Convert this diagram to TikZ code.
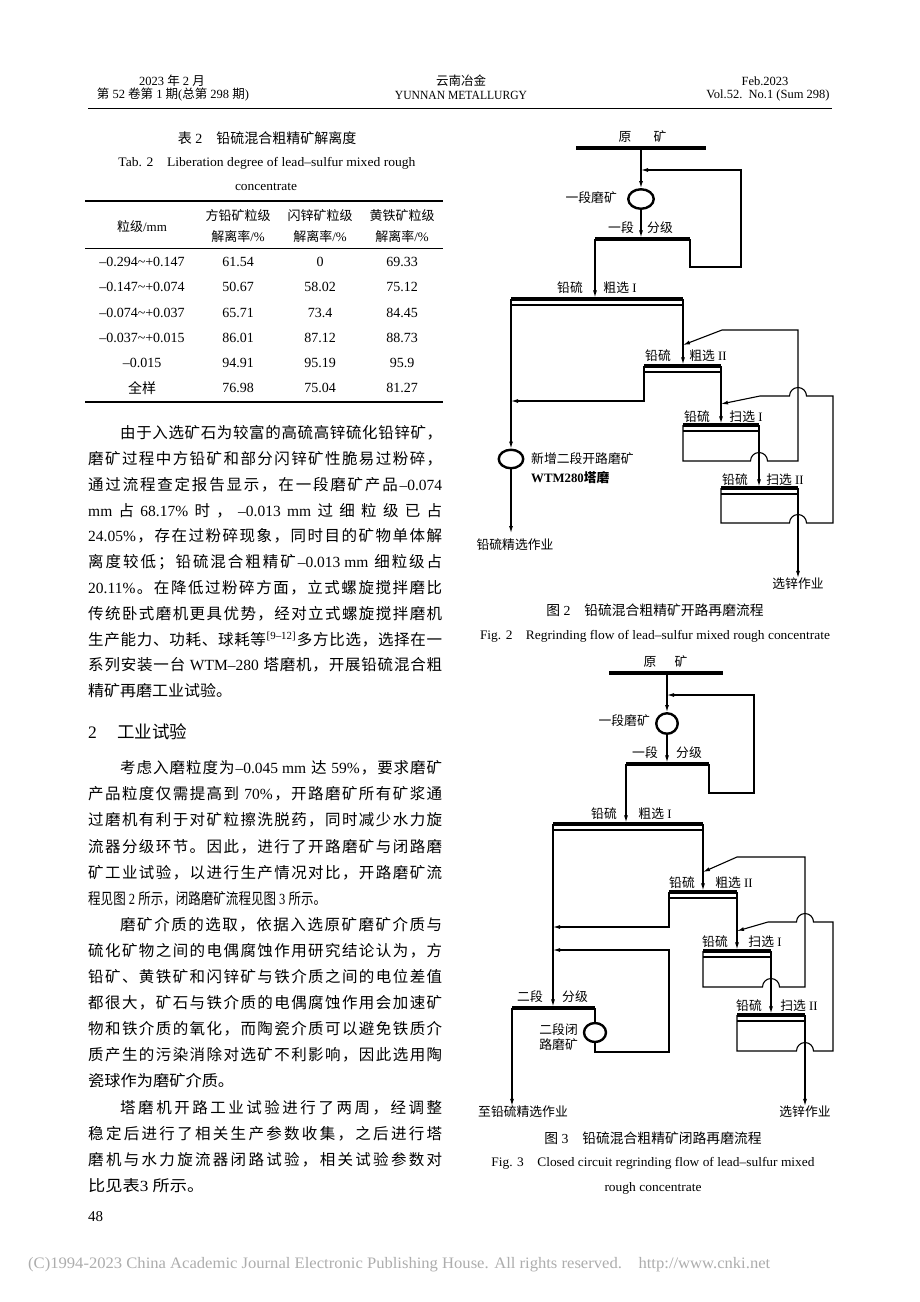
\documentclass[tikz,border=0pt]{standalone}
\usepackage{graphicx}
\usepackage{fontspec}
\setmainfont{Liberation Serif}
\newfontfamily\cjk{Noto Sans CJK SC}
\usetikzlibrary{arrows.meta,shapes.geometric}
\XeTeXinterchartokenstate=1
\newXeTeXintercharclass\CJKcls
\newcount\cjkc
\cjkc="3000 \loop\XeTeXcharclass\cjkc=\CJKcls \advance\cjkc by 1 \ifnum\cjkc<"3040 \repeat
\cjkc="4E00 \loop\XeTeXcharclass\cjkc=\CJKcls \advance\cjkc by 1 \ifnum\cjkc<"9FB0 \repeat
\cjkc="FF00 \loop\XeTeXcharclass\cjkc=\CJKcls \advance\cjkc by 1 \ifnum\cjkc<"FF60 \repeat
\XeTeXinterchartoks 0 \CJKcls = {\cjk}
\XeTeXinterchartoks 4095 \CJKcls = {\cjk}
\XeTeXinterchartoks \CJKcls 0 = {\rmfamily}
\XeTeXinterchartoks \CJKcls 4095 = {\rmfamily}
\makeatletter
\def\spreadglue{\hfil}
\def\spread#1{\sp@first#1\sp@END}
\def\sp@first#1{#1\sp@rest}
\def\sp@rest#1{\def\sp@tmp{#1}\ifx\sp@tmp\sp@stop\else\spreadglue#1\expandafter\sp@rest\fi}
\def\sp@stop{\sp@END}
\makeatother
\newcommand\jline[2]{\hbox to #1pt{\spread{#2}}}
\newcommand\fitw[2]{\resizebox{#1pt}{\height}{#2}}
\begin{document}
\begin{tikzpicture}[x=1pt,y=-1pt,
  every node/.style={inner sep=0pt},
  bl/.style={anchor=west,inner sep=0pt,font=\fontsize{15.5}{18}\selectfont,text height=13.5pt,text depth=2pt},
  hd/.style={font=\fontsize{12.5}{14}\selectfont},
  fl/.style={font=\fontsize{12.8}{14}\selectfont},
  capt/.style={font=\fontsize{13.8}{16}\selectfont},
  th/.style={font=\fontsize{13}{15}\selectfont},
  td/.style={font=\fontsize{14}{16}\selectfont},
  ln/.style={line width=1.1pt},
  arr/.style={line width=1.1pt,-{Latex[length=7pt,width=4pt]}},
  arrbar/.style={arr,shorten >=1.6pt},
  bar/.style={line width=3.3pt},
  mill/.style={ellipse,draw,line width=2.4pt,inner sep=0pt}]
\fill[white] (0,0) rectangle (920,1302);
\useasboundingbox (0,0) rectangle (920,1302);

% ---------- header ----------
\node[hd] (h1) at (172,81) {2023 年 2 月};
\node[hd] (h2) at (173,95) {第 52 卷第 1 期(总第 298 期)};
\node[hd] (h3) at (461,81) {云南冶金};
\node[hd] (h4) at (461,95) {\fitw{132}{YUNNAN METALLURGY}};
\node[hd] (h5) at (765,81) {Feb.2023};
\node[hd] (h6) at (768,95) {Vol.52.\ \ No.1 (Sum 298)};
\draw[line width=1.2pt] (88,108.5) -- (832,108.5);

% ---------- table ----------
\node[font=\fontsize{14}{16}\selectfont] (tt) at (267,138) {表 2　铅硫混合粗精矿解离度};
\node (te1) at (267,163) {\fitw{297}{\fontsize{13}{15}\selectfont Tab. 2\quad Liberation degree of lead–sulfur mixed rough}};
\node (te2) at (266,187) {\fitw{62}{\fontsize{13}{15}\selectfont concentrate}};
\draw[line width=1.4pt] (85,201) -- (443,201);
\node[th] (c1) at (142,227) {粒级/mm};
\node[th] (c2a) at (238,216) {方铅矿粒级};
\node[th] (c2b) at (238,237) {解离率/\%};
\node[th] (c3a) at (320,216) {闪锌矿粒级};
\node[th] (c3b) at (320,237) {解离率/\%};
\node[th] (c4a) at (402,216) {黄铁矿粒级};
\node[th] (c4b) at (402,237) {解离率/\%};
\draw[line width=0.9pt] (85,248) -- (443,248);
\node[td] (r1a) at (142,262) {–0.294\textasciitilde+0.147};
\node[td] (r1b) at (238,262) {61.54};
\node[td] (r1c) at (320,262) {0};
\node[td] (r1d) at (402,262) {69.33};
\node[td] (r2a) at (142,287) {–0.147\textasciitilde+0.074};
\node[td] (r2b) at (238,287) {50.67};
\node[td] (r2c) at (320,287) {58.02};
\node[td] (r2d) at (402,287) {75.12};
\node[td] (r3a) at (142,313) {–0.074\textasciitilde+0.037};
\node[td] (r3b) at (238,313) {65.71};
\node[td] (r3c) at (320,313) {73.4};
\node[td] (r3d) at (402,313) {84.45};
\node[td] (r4a) at (142,338) {–0.037\textasciitilde+0.015};
\node[td] (r4b) at (238,338) {86.01};
\node[td] (r4c) at (320,338) {87.12};
\node[td] (r4d) at (402,338) {88.73};
\node[td] (r5a) at (142,363) {–0.015};
\node[td] (r5b) at (238,363) {94.91};
\node[td] (r5c) at (320,363) {95.19};
\node[td] (r5d) at (402,363) {95.9};
\node[td] (r6a) at (142,388) {全样};
\node[td] (r6b) at (238,388) {76.98};
\node[td] (r6c) at (320,388) {75.04};
\node[td] (r6d) at (402,388) {81.27};
\draw[line width=1.4pt] (85,402) -- (443,402);

% ---------- body text ----------
\node[bl] (p1a) at (120,433) {\jline{322}{由于入选矿石为较富的高硫高锌硫化铅锌矿，}};
\node[bl] (p1b) at (88,458.8) {\jline{354}{磨矿过程中方铅矿和部分闪锌矿性脆易过粉碎，}};
\node[bl] (p1c) at (88,484.6) {\jline{354}{通过流程查定报告显示，在一段磨矿产品{–0.074}}};
\node[bl] (p1d) at (88,510.4) {\jline{354}{{mm}占{68.17\%}时，{–0.013}{mm}过细粒级已占}};
\node[bl] (p1e) at (88,536.2) {\jline{354}{{24.05\%}，存在过粉碎现象，同时目的矿物单体解}};
\node[bl] (p1f) at (88,562) {\jline{354}{离度较低；铅硫混合粗精矿{–0.013\ mm\ }细粒级占}};
\node[bl] (p1g) at (88,587.8) {\jline{354}{{20.11\%}。在降低过粉碎方面，立式螺旋搅拌磨比}};
\node[bl] (p1h) at (88,613.6) {\jline{354}{传统卧式磨机更具优势，经对立式螺旋搅拌磨机}};
\node[bl] (p1i) at (88,639.4) {\jline{354}{生产能力、功耗、球耗等{\textsuperscript{[9–12]}}多方比选，选择在一}};
\node[bl] (p1j) at (88,665.2) {\jline{354}{系列安装一台{\ WTM–280\ }塔磨机，开展铅硫混合粗}};
\node[bl] (p1k) at (88,691) {\fitw{144}{精矿再磨工业试验。}};

\node[bl,font=\fontsize{17.5}{20}\selectfont] (s2n) at (88,733) {2};
\node[bl,font=\fontsize{17.5}{20}\selectfont] (s2t) at (117,733) {工业试验};

\node[bl] (p2a) at (120,768) {\jline{322}{考虑入磨粒度为{–0.045\ mm\ }达{\ 59\%}，要求磨矿}};
\node[bl] (p2b) at (88,794.1) {\jline{354}{产品粒度仅需提高到{\ 70\%}，开路磨矿所有矿浆通}};
\node[bl] (p2c) at (88,820.2) {\jline{354}{过磨机有利于对矿粒擦洗脱药，同时减少水力旋}};
\node[bl] (p2d) at (88,846.3) {\jline{354}{流器分级环节。因此，进行了开路磨矿与闭路磨}};
\node[bl] (p2e) at (88,872.4) {\jline{354}{矿工业试验，以进行生产情况对比，开路磨矿流}};
\node[bl] (p2f) at (88,898.5) {\fitw{238}{程见图 2 所示，闭路磨矿流程见图 3 所示。}};
\node[bl] (p3a) at (120,924.6) {\jline{322}{磨矿介质的选取，依据入选原矿磨矿介质与}};
\node[bl] (p3b) at (88,950.7) {\jline{354}{硫化矿物之间的电偶腐蚀作用研究结论认为，方}};
\node[bl] (p3c) at (88,976.8) {\jline{354}{铅矿、黄铁矿和闪锌矿与铁介质之间的电位差值}};
\node[bl] (p3d) at (88,1002.9) {\jline{354}{都很大，矿石与铁介质的电偶腐蚀作用会加速矿}};
\node[bl] (p3e) at (88,1029) {\jline{354}{物和铁介质的氧化，而陶瓷介质可以避免铁质介}};
\node[bl] (p3f) at (88,1055.1) {\jline{354}{质产生的污染消除对选矿不利影响，因此选用陶}};
\node[bl] (p3g) at (88,1081.2) {\fitw{146}{瓷球作为磨矿介质。}};
\node[bl] (p4a) at (120,1107.3) {\jline{322}{塔磨机开路工业试验进行了两周，经调整}};
\node[bl] (p4b) at (88,1133.4) {\jline{354}{稳定后进行了相关生产参数收集，之后进行塔}};
\node[bl] (p4c) at (88,1159.5) {\jline{354}{磨机与水力旋流器闭路试验，相关试验参数对}};
\node[bl] (p4d) at (88,1185.6) {\fitw{116}{比见表3 所示。}};

\node[anchor=west,font=\fontsize{15}{17}\selectfont] (pg) at (88,1217) {48};

% ---------- Fig. 2 ----------
\node[fl] (f2o1) at (625,137) {原};
\node[fl] (f2o2) at (660,137) {矿};
\coordinate (f2a) at (641,148);
\draw[bar] (576,148) -- (706,148);
\node[mill,minimum width=25.5pt,minimum height=19.5pt] (f2m1) at (641,199) {};
\coordinate (f2j) at (641,170);
\draw[arr] (f2a) -- (f2m1.north);
\node[fl,anchor=east] (f2m1l) at (617,198) {一段磨矿};
\coordinate (f2bL) at (595,239);
\coordinate (f2bR) at (690,239);
\coordinate (f2bC) at (641,239);
\draw[bar] (f2bL) -- (f2bR);
\draw[arrbar] (f2m1.south) -- (f2bC);
\node[fl] (f2c1) at (621,228) {一段};
\node[fl] (f2c2) at (660,228) {分级};
\draw[arr] (f2bR) -- (690,267) -- (741,267) -- (741,170) -- (f2j);
% rougher I
\coordinate (f2r1L) at (511,299);
\coordinate (f2r1R) at (683,299);
\coordinate (f2r1F) at (595,299);
\draw[bar] (f2r1L) -- (f2r1R);
\draw[ln] (511,305) -- (683,305);
\draw[arrbar] (f2bL) -- (f2r1F);
\node[fl] (f2r1a) at (570,288) {铅硫};
\node[fl] (f2r1b) at (620,288) {粗选 I};
% rougher II
\coordinate (f2r2L) at (644,366);
\coordinate (f2r2R) at (721,366);
\coordinate (f2r2F) at (683,366);
\draw[bar] (f2r2L) -- (f2r2R);
\draw[ln] (644,372) -- (721,372);
\draw[arrbar] (f2r1R) -- (f2r2F);
\node[fl] (f2r2a) at (658,356) {铅硫};
\node[fl] (f2r2b) at (708,356) {粗选 II};
% scavenger I
\coordinate (f2s1L) at (683,425);
\coordinate (f2s1R) at (759,425);
\coordinate (f2s1F) at (721,425);
\draw[bar] (f2s1L) -- (f2s1R);
\draw[ln] (683,431) -- (759,431);
\draw[arrbar] (f2r2R) -- (f2s1F);
\node[fl] (f2s1a) at (697,417) {铅硫};
\node[fl] (f2s1b) at (746,417) {扫选 I};
% scavenger II
\coordinate (f2s2L) at (721,488);
\coordinate (f2s2R) at (798,488);
\coordinate (f2s2F) at (759,488);
\draw[bar] (f2s2L) -- (f2s2R);
\draw[ln] (721,494) -- (798,494);
\draw[arrbar] (f2s1R) -- (f2s2F);
\node[fl] (f2s2a) at (735,480) {铅硫};
\node[fl] (f2s2b) at (785,480) {扫选 II};
% returns
\coordinate (f2k1) at (683,345);
\coordinate (f2k2) at (721,404);
\draw[arr] (f2s1L) -- (683,461) -- (750.5,461) arc[start angle=180,end angle=360,radius=8.5] -- (798,461) -- (798,330) -- (722,330) -- (f2k1);
\draw[arr] (f2s2L) -- (721,523) -- (789.5,523) arc[start angle=180,end angle=360,radius=8.5] -- (833,523) -- (833,396) -- (806.5,396) arc[start angle=0,end angle=-180,radius=8.5] -- (760,396) -- (f2k2);
\node[fl] (f2zn) at (798,584) {选锌作业};
\draw[arr] (f2s2R) -- (f2zn.north);
% regrind
\node[mill,minimum width=24.5pt,minimum height=18.5pt] (f2m2) at (511,459) {};
\coordinate (f2k3) at (511,401);
\draw[arr] (f2r2L) -- (644,401) -- (f2k3);
\draw[arr] (f2r1L) -- (f2m2.north);
\node[fl,anchor=west] (f2m2a) at (531,459) {新增二段开路磨矿};
\node[fl,anchor=west] (f2m2b) at (531,478) {\bfseries WTM280塔磨};
\node[fl] (f2pb) at (515,545) {铅硫精选作业};
\draw[arr] (f2m2.south) -- (511,533);
\node[capt] (f2cap) at (655,610) {图 2　铅硫混合粗精矿开路再磨流程};
\node (f2cape) at (655,636) {\fitw{350}{\fontsize{13}{15}\selectfont Fig. 2\quad Regrinding flow of lead–sulfur mixed rough concentrate}};

% ---------- Fig. 3 ----------
\node[fl] (f3o1) at (650,662) {原};
\node[fl] (f3o2) at (681,662) {矿};
\coordinate (f3a) at (667,673);
\draw[bar] (609,673) -- (723,673);
\node[mill,minimum width=21.5pt,minimum height=20.5pt] (f3m1) at (667,723.5) {};
\coordinate (f3j) at (667,695);
\draw[arr] (f3a) -- (f3m1.north);
\node[fl,anchor=east] (f3m1l) at (650,721) {一段磨矿};
\coordinate (f3bL) at (626,764);
\coordinate (f3bR) at (709,764);
\coordinate (f3bC) at (667,764);
\draw[bar] (f3bL) -- (f3bR);
\draw[arrbar] (f3m1.south) -- (f3bC);
\node[fl] (f3c1) at (645,753) {一段};
\node[fl] (f3c2) at (689,753) {分级};
\draw[arr] (f3bR) -- (709,793) -- (754,793) -- (754,695) -- (f3j);
% rougher I
\coordinate (f3r1L) at (553,824);
\coordinate (f3r1R) at (703,824);
\coordinate (f3r1F) at (626,824);
\draw[bar] (f3r1L) -- (f3r1R);
\draw[ln] (553,830) -- (703,830);
\draw[arrbar] (f3bL) -- (f3r1F);
\node[fl] (f3r1a) at (604,814) {铅硫};
\node[fl] (f3r1b) at (655,814) {粗选 I};
% rougher II
\coordinate (f3r2L) at (669,892);
\coordinate (f3r2R) at (737,892);
\coordinate (f3r2F) at (703,892);
\draw[bar] (f3r2L) -- (f3r2R);
\draw[ln] (669,898) -- (737,898);
\draw[arrbar] (f3r1R) -- (f3r2F);
\node[fl] (f3r2a) at (682,883) {铅硫};
\node[fl] (f3r2b) at (734,883) {粗选 II};
% scavenger I
\coordinate (f3s1L) at (703,951);
\coordinate (f3s1R) at (771,951);
\coordinate (f3s1F) at (737,951);
\draw[bar] (f3s1L) -- (f3s1R);
\draw[ln] (703,957) -- (771,957);
\draw[arrbar] (f3r2R) -- (f3s1F);
\node[fl] (f3s1a) at (715,942) {铅硫};
\node[fl] (f3s1b) at (765,942) {扫选 I};
% scavenger II
\coordinate (f3s2L) at (737,1015);
\coordinate (f3s2R) at (805,1015);
\coordinate (f3s2F) at (771,1015);
\draw[bar] (f3s2L) -- (f3s2R);
\draw[ln] (737,1021) -- (805,1021);
\draw[arrbar] (f3s1R) -- (f3s2F);
\node[fl] (f3s2a) at (749,1006) {铅硫};
\node[fl] (f3s2b) at (799,1006) {扫选 II};
% returns
\coordinate (f3k1) at (703,872);
\coordinate (f3k2) at (737,931);
\draw[arr] (f3s1L) -- (703,987) -- (762.5,987) arc[start angle=180,end angle=360,radius=8.5] -- (805,987) -- (805,857) -- (737,857) -- (f3k1);
\draw[arr] (f3s2L) -- (737,1051) -- (796.5,1051) arc[start angle=180,end angle=360,radius=8.5] -- (833,1051) -- (833,922) -- (813.5,922) arc[start angle=0,end angle=-180,radius=8.5] -- (768,922) -- (f3k2);
\node[fl] (f3zn) at (805,1112) {选锌作业};
\draw[arr] (f3s2R) -- (f3zn.north);
% second-stage classification and closed regrind
\coordinate (f3cL) at (512,1008);
\coordinate (f3cR) at (595,1008);
\coordinate (f3cF) at (553,1008);
\draw[bar] (f3cL) -- (f3cR);
\node[fl] (f3c3) at (530,997) {二段};
\node[fl] (f3c4) at (575,997) {分级};
\draw[arrbar] (f3r1L) -- (f3cF);
\coordinate (f3k3) at (553,927);
\coordinate (f3k4) at (553,950);
\draw[arr] (f3r2L) -- (669,927) -- (f3k3);
\node[mill,minimum width=22pt,minimum height=19pt] (f3m2) at (595,1032.5) {};
\draw[ln] (f3cR) -- (f3m2.north);
\draw[arr] (f3m2.south) -- (595,1052) -- (669,1052) -- (669,950) -- (f3k4);
\node[fl,anchor=east] (f3m2a) at (578,1030) {二段闭};
\node[fl,anchor=east] (f3m2b) at (578,1045) {路磨矿};
\node[fl] (f3pb) at (523,1112) {至铅硫精选作业};
\draw[arr] (f3cL) -- (f3pb.north -| f3cL);
\node[capt] (f3cap) at (653,1138) {图 3　铅硫混合粗精矿闭路再磨流程};
\node (f3cape) at (653,1163) {\fitw{323}{\fontsize{13}{15}\selectfont Fig. 3\quad Closed circuit regrinding flow of lead–sulfur mixed}};
\node (f3cape2) at (653,1188) {\fitw{97}{\fontsize{13}{15}\selectfont rough concentrate}};

% ---------- footer ----------
\node[anchor=west,text=black!32] (ft) at (28,1265) {\fitw{742}{\fontsize{16}{18}\selectfont (C)1994-2023 China Academic Journal Electronic Publishing House. All rights reserved.\quad http://www.cnki.net}};
\end{tikzpicture}
\end{document}
